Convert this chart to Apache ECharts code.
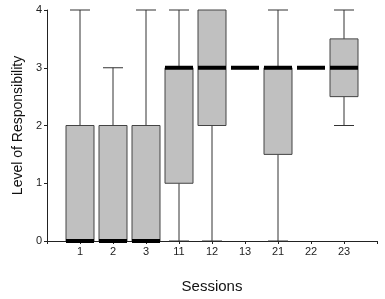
<!DOCTYPE html>
<html>
<head>
<meta charset="utf-8">
<style>
  html, body { margin: 0; padding: 0; background: #fff; }
  #chart { width: 385px; height: 299px; }
</style>
<script src="https://cdn.jsdelivr.net/npm/echarts@6/dist/echarts.min.js"></script>
</head>
<body>
<div id="chart"></div>
<script>
// sessions along the x axis (blank slots at both ends keep the spacing)
const sessions = ['', '1', '2', '3', '11', '12', '13', '21', '22', '23', ''];
// box stats per session: min, q1, median, q3, max
const mins    = [0, 0, 0, 0, 0, 3, 0,   3, 2];
const q1s     = [0, 0, 0, 1, 2, 3, 1.5, 3, 2.5];
const medians = [0, 0, 0, 3, 3, 3, 3,   3, 3];
const q3s     = [2, 2, 2, 3, 4, 3, 3,   3, 3.5];
const maxs    = [4, 3, 4, 4, 4, 3, 4,   3, 4];
const yTicks  = [0, 1, 2, 3, 4];

const chart = echarts.init(document.getElementById('chart'));

const boxData = medians.map((m, i) => [i + 1, mins[i], q1s[i], m, q3s[i], maxs[i]]);

const renderBox = (params, api) => {
    const x = api.value(0);
    const lo = api.value(1), q1 = api.value(2), med = api.value(3), q3 = api.value(4), hi = api.value(5);
    const pMin = api.coord([x, lo]);
    const pQ1 = api.coord([x, q1]);
    const pMed = api.coord([x, med]);
    const pQ3 = api.coord([x, q3]);
    const pMax = api.coord([x, hi]);
    const cx = pMed[0];
    const boxW = 28, capW = 20, medH = 4;
    const lineStyle = { stroke: '#333', lineWidth: 1, fill: null };
    const kids = [];
    if (hi > q3) {
        kids.push({ type: 'line', shape: { x1: cx, y1: pMax[1], x2: cx, y2: pQ3[1] }, style: lineStyle });
        kids.push({ type: 'line', shape: { x1: cx - capW / 2, y1: pMax[1], x2: cx + capW / 2, y2: pMax[1] }, style: lineStyle });
    }
    if (lo < q1) {
        kids.push({ type: 'line', shape: { x1: cx, y1: pQ1[1], x2: cx, y2: pMin[1] }, style: lineStyle });
        kids.push({ type: 'line', shape: { x1: cx - capW / 2, y1: pMin[1], x2: cx + capW / 2, y2: pMin[1] }, style: lineStyle });
    }
    if (q3 > q1) {
        kids.push({
            type: 'rect',
            shape: { x: cx - boxW / 2, y: pQ3[1], width: boxW, height: pQ1[1] - pQ3[1] },
            style: { fill: '#c0c0c0', stroke: '#444', lineWidth: 1 }
        });
    }
    kids.push({
        type: 'rect',
        shape: { x: cx - boxW / 2, y: pMed[1] - medH / 2, width: boxW, height: medH },
        style: { fill: '#000' }
    });
    return { type: 'group', children: kids };
};

chart.setOption({
    animation: false,
    grid: { left: 47, right: 8, top: 10, bottom: 56 },
    xAxis: {
        type: 'category',
        data: sessions,
        boundaryGap: false,
        name: 'Sessions',
        nameLocation: 'middle',
        nameGap: 38,
        nameTextStyle: { fontFamily: 'Liberation Sans', fontSize: 15, color: '#111' },
        axisLine: { lineStyle: { color: '#222', width: 1 } },
        axisTick: { alignWithLabel: true, length: 3, lineStyle: { color: '#222' } },
        axisLabel: { fontFamily: 'Liberation Sans', fontSize: 11, color: '#222', margin: 5, interval: 0 },
        splitLine: { show: false }
    },
    yAxis: {
        type: 'value',
        min: yTicks[0],
        max: yTicks[yTicks.length - 1],
        interval: 1,
        name: 'Level of Responsibility',
        nameLocation: 'middle',
        nameGap: 22,
        nameTextStyle: { fontFamily: 'Liberation Sans', fontSize: 14, color: '#111' },
        axisLine: { show: true, lineStyle: { color: '#222', width: 1 } },
        axisTick: { show: true, length: 3, lineStyle: { color: '#222' } },
        axisLabel: { fontFamily: 'Liberation Sans', fontSize: 11, color: '#222', margin: 5 },
        splitLine: { show: false }
    },
    series: [{
        type: 'custom',
        renderItem: renderBox,
        encode: { x: 0, y: [1, 2, 3, 4, 5] },
        data: boxData,
        clip: false
    }]
});
</script>
</body>
</html>
